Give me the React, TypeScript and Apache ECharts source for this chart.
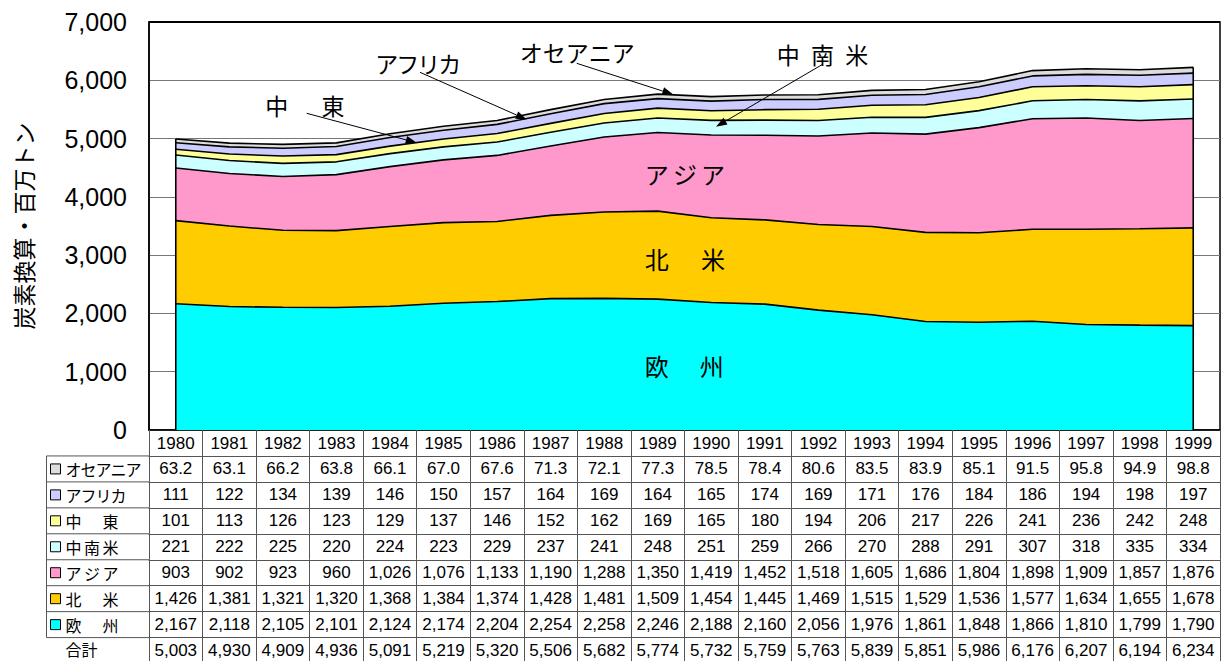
import { useEffect, useRef } from 'react';
import * as echarts from 'echarts';

// ---- data (百万トン, 炭素換算) ----
const years = ['1980', '1981', '1982', '1983', '1984', '1985', '1986', '1987', '1988', '1989',
  '1990', '1991', '1992', '1993', '1994', '1995', '1996', '1997', '1998', '1999'];
const oceania = [63.2, 63.1, 66.2, 63.8, 66.1, 67.0, 67.6, 71.3, 72.1, 77.3, 78.5, 78.4, 80.6, 83.5, 83.9, 85.1, 91.5, 95.8, 94.9, 98.8];
const africa = [111, 122, 134, 139, 146, 150, 157, 164, 169, 164, 165, 174, 169, 171, 176, 184, 186, 194, 198, 197];
const middleEast = [101, 113, 126, 123, 129, 137, 146, 152, 162, 169, 165, 180, 194, 206, 217, 226, 241, 236, 242, 248];
const latinAmerica = [221, 222, 225, 220, 224, 223, 229, 237, 241, 248, 251, 259, 266, 270, 288, 291, 307, 318, 335, 334];
const asia = [903, 902, 923, 960, 1026, 1076, 1133, 1190, 1288, 1350, 1419, 1452, 1518, 1605, 1686, 1804, 1898, 1909, 1857, 1876];
const northAmerica = [1426, 1381, 1321, 1320, 1368, 1384, 1374, 1428, 1481, 1509, 1454, 1445, 1469, 1515, 1529, 1536, 1577, 1634, 1655, 1678];
const europe = [2167, 2118, 2105, 2101, 2124, 2174, 2204, 2254, 2258, 2246, 2188, 2160, 2056, 1976, 1861, 1848, 1866, 1810, 1799, 1790];
const totals = [5003, 4930, 4909, 4936, 5091, 5219, 5320, 5506, 5682, 5774, 5732, 5759, 5763, 5839, 5851, 5986, 6176, 6207, 6194, 6234];

const yMax = 7000;
const yStep = 1000;
const yAxisTitle = '炭素換算・百万トン';

// regions listed top row first, as in the table
const regionNames = ['オセアニア', 'アフリカ', '中東', '中南米', 'アジア', '北米', '欧州'];
const regionValues = [oceania, africa, middleEast, latinAmerica, asia, northAmerica, europe];
const regionDecimals = [1, 0, 0, 0, 0, 0, 0];
const regionColors = ['#DDDDDD', '#CCCCFF', '#FFFF99', '#CCFFFF', '#FF99CC', '#FFCC00', '#00FFFF'];
const totalLabel = '合計';

// ---- layout ----
const W = 1226;
const H = 661;
const PLOT_LEFT = 149;
const PLOT_RIGHT = 1220;
const PLOT_TOP = 22;
const PLOT_BOTTOM = 430;
const ROW_H = 25.95;
const TABLE_LEFT = 46.5;
const TABLE_FONT = 17;
const NUM_FONT = '"Liberation Sans", Arial, sans-serif';
const JP_FONT = '"Noto Sans CJK JP", "Noto Sans", sans-serif';
const TABLE_LINE = '#555555';

const fmt = (v: number, decimals: number) =>
  v.toLocaleString('en-US', { minimumFractionDigits: decimals, maximumFractionDigits: decimals });

// text drawn one character at a time with a fixed pitch
function spacedText(chars: string, cx0: number, step: number, cy: number, fontSize: number, z = 50) {
  return Array.from(chars).map((ch, i) => ({
    type: 'text',
    z,
    style: {
      text: ch,
      x: cx0 + i * step,
      y: cy,
      align: 'center',
      verticalAlign: 'middle',
      fontSize,
      fontFamily: JP_FONT,
      fill: '#000',
    },
  }));
}

function arrow(x1: number, y1: number, x2: number, y2: number) {
  const dx = x2 - x1;
  const dy = y2 - y1;
  const len = Math.hypot(dx, dy);
  const ux = dx / len;
  const uy = dy / len;
  const hl = 11;
  const hw = 4;
  const bx = x2 - ux * hl;
  const by = y2 - uy * hl;
  return [
    { type: 'line', z: 50, shape: { x1, y1, x2: bx, y2: by }, style: { stroke: '#000', lineWidth: 1 } },
    {
      type: 'polygon',
      z: 50,
      shape: { points: [[x2, y2], [bx - uy * hw, by + ux * hw], [bx + uy * hw, by - ux * hw]] },
      style: { fill: '#000' },
    },
  ];
}

function buildOption() {
  const n = years.length;
  // stacking goes bottom (欧州) to top (オセアニア)
  const stackOrder = regionNames.map((_, i) => i).reverse();
  const stackTop = years.map((_, j) => regionValues.reduce((s, arr) => s + arr[j], 0));

  const series: any[] = stackOrder.map((ri, k) => ({
    type: 'line',
    name: regionNames[ri],
    stack: 'total',
    data: regionValues[ri],
    symbol: 'none',
    showSymbol: false,
    silent: true,
    z: 2 + (stackOrder.length - k),
    lineStyle: { color: '#000', width: 1.6 },
    itemStyle: { color: regionColors[ri] },
    areaStyle: { color: regionColors[ri], opacity: 1 },
  }));

  // vertical outline at both ends of the stacked area
  series.push({
    type: 'custom',
    z: 20,
    silent: true,
    data: [[0, stackTop[0]], [n - 1, stackTop[n - 1]]],
    encode: { x: 0, y: 1 },
    renderItem: (_params: any, api: any) => {
      const x = api.value(0);
      const top = api.value(1);
      const p0 = api.coord([x, 0]);
      const p1 = api.coord([x, top]);
      return {
        type: 'line',
        shape: { x1: p0[0], y1: p0[1], x2: p1[0], y2: p1[1] },
        style: { stroke: '#000', lineWidth: 1.6 },
      };
    },
  });

  // table rows: every row is a category axis under the plot
  const rowLabelFns: ((i: number) => string)[] = [
    ...regionValues.map((arr, ri) => (i: number) => fmt(arr[i], regionDecimals[ri])),
    (i: number) => fmt(totals[i], 0),
  ];

  const labelBase = {
    interval: 0,
    margin: 4.5,
    fontSize: TABLE_FONT,
    color: '#000',
    fontFamily: NUM_FONT,
    hideOverlap: false,
  };

  const baseAxis = {
    type: 'category',
    data: years,
    boundaryGap: true,
    position: 'bottom',
    gridIndex: 0,
    axisLine: { show: true, lineStyle: { color: TABLE_LINE, width: 1 } },
    axisTick: { show: true, interval: 0, length: ROW_H, inside: false, lineStyle: { color: TABLE_LINE, width: 1 } },
    splitLine: { show: false },
  };

  const xAxis: any[] = [
    {
      ...baseAxis,
      axisLine: { show: true, lineStyle: { color: '#000', width: 1.5 } },
      axisLabel: { ...labelBase },
    },
    ...rowLabelFns.map((fn, r) => ({
      ...baseAxis,
      offset: ROW_H * (r + 1),
      axisLabel: { ...labelBase, formatter: (_v: string, idx: number) => fn(idx) },
    })),
  ];

  // row headers at the left of the table
  const graphics: any[] = [];
  const nRows = regionNames.length + 1;
  for (let k = 1; k <= nRows; k++) {
    const y = PLOT_BOTTOM + ROW_H * k;
    graphics.push({
      type: 'line', z: 40, shape: { x1: TABLE_LEFT, y1: y, x2: PLOT_LEFT, y2: y },
      style: { stroke: TABLE_LINE, lineWidth: 1 },
    });
  }
  graphics.push({
    type: 'line', z: 40,
    shape: { x1: TABLE_LEFT, y1: PLOT_BOTTOM + ROW_H, x2: TABLE_LEFT, y2: PLOT_BOTTOM + ROW_H * nRows },
    style: { stroke: TABLE_LINE, lineWidth: 1 },
  });
  const headerPitch = [15, 15, 37, 18.5, 18.5, 37, 37];
  regionNames.forEach((name, ri) => {
    const cy = PLOT_BOTTOM + ROW_H * (ri + 1) + ROW_H / 2;
    graphics.push({
      type: 'rect', z: 40,
      shape: { x: 50.5, y: cy - 5, width: 10, height: 10 },
      style: { fill: regionColors[ri], stroke: '#000', lineWidth: 1 },
    });
    graphics.push(...spacedText(name, 73.5, headerPitch[ri], cy, 16, 40));
  });
  graphics.push(...spacedText(totalLabel, 73.5, 16, PLOT_BOTTOM + ROW_H * nRows + 11.5, 16, 40));

  // y axis title
  graphics.push({
    type: 'text', z: 50, x: 23, y: 226, rotation: Math.PI / 2,
    style: {
      text: yAxisTitle, align: 'center', verticalAlign: 'middle',
      fontSize: 23, fontFamily: JP_FONT, fill: '#000',
    },
  });

  // band names inside the areas
  graphics.push(...spacedText('欧州', 656.7, 55, 365, 24));
  graphics.push(...spacedText('北米', 656.7, 56.3, 258, 24));
  graphics.push(...spacedText('アジア', 656.7, 28.2, 173.3, 24));

  // callouts for the thin bands
  graphics.push(...spacedText('中東', 276.7, 56.3, 105, 23));
  graphics.push(...arrow(306.7, 113.3, 416.7, 142.7));
  graphics.push(...spacedText('アフリカ', 418.3 - 1.5 * 21, 21, 63.3, 23));
  graphics.push(...arrow(420, 72.3, 526.7, 119.5));
  graphics.push(...spacedText('オセアニア', 577.3 - 2 * 23, 23, 51.7, 23));
  graphics.push(...arrow(576.7, 63.3, 673.3, 94.5));
  graphics.push(...spacedText('中南米', 788.3, 34.2, 54, 23));
  graphics.push(...arrow(822.7, 64.3, 716, 126.7));

  // heavier top edge of the plot frame
  graphics.push({
    type: 'line', z: 45, shape: { x1: PLOT_LEFT, y1: PLOT_TOP, x2: PLOT_RIGHT, y2: PLOT_TOP },
    style: { stroke: '#000', lineWidth: 2 },
  });

  return {
    animation: false,
    backgroundColor: '#ffffff',
    grid: {
      left: PLOT_LEFT,
      right: W - PLOT_RIGHT,
      top: PLOT_TOP,
      bottom: H - PLOT_BOTTOM,
      show: true,
      borderColor: '#000',
      borderWidth: 1.5,
      backgroundColor: 'transparent',
    },
    xAxis,
    yAxis: {
      type: 'value',
      min: 0,
      max: yMax,
      interval: yStep,
      axisLine: { show: true, lineStyle: { color: '#000', width: 1.5 } },
      axisTick: { show: false },
      axisLabel: {
        fontSize: 25, margin: 22, color: '#000', fontFamily: NUM_FONT,
        formatter: (v: number) => fmt(v, 0),
      },
      splitLine: { show: true, lineStyle: { color: '#777777', width: 1 } },
    },
    series,
    graphic: graphics,
  };
}

export default function App() {
  const ref = useRef<HTMLDivElement>(null);
  useEffect(() => {
    if (!ref.current) return;
    const chart = echarts.init(ref.current, null, { renderer: 'svg' });
    chart.setOption(buildOption() as any);
    return () => chart.dispose();
  }, []);
  return (
    <div
      ref={ref}
      style={{ position: 'absolute', left: 0, top: 0, width: W, height: H, background: '#fff' }}
    />
  );
}
